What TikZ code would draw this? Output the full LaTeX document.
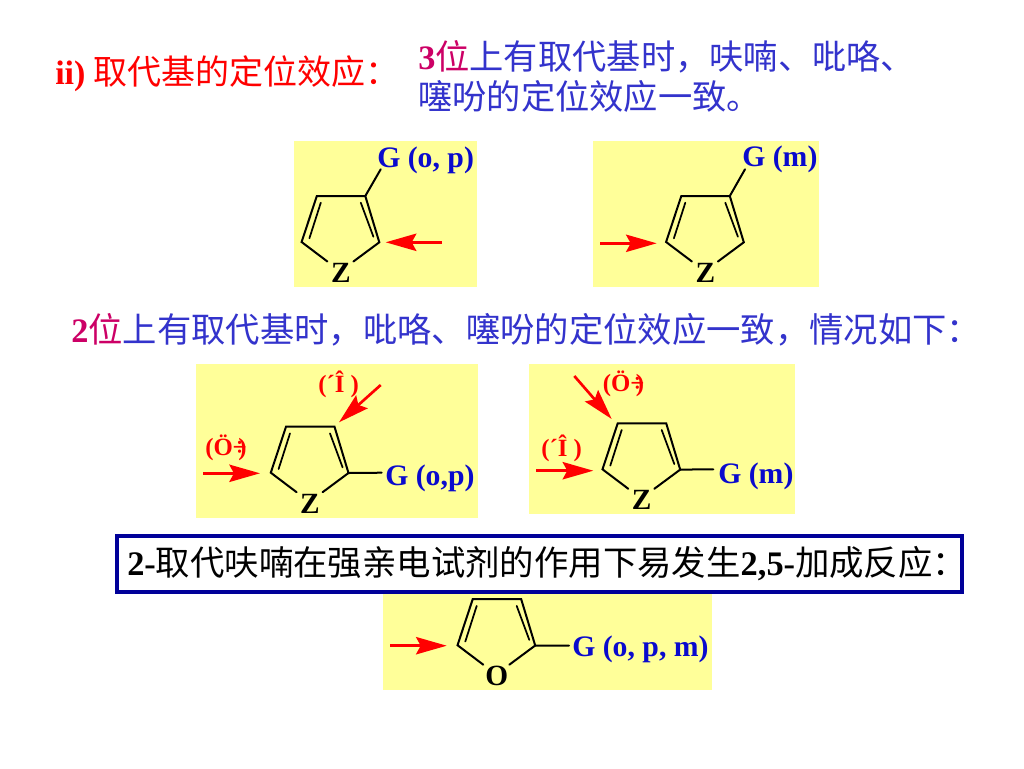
\documentclass[tikz,border=0pt]{standalone}
\usepackage{fontspec}
\setmainfont{Liberation Serif}
\newfontfamily\cjk{Noto Sans CJK SC}
\usetikzlibrary{arrows.meta}
\definecolor{panelyellow}{RGB}{255,255,153}
\definecolor{gblue}{RGB}{10,10,205}
\definecolor{txtblue}{RGB}{51,51,204}
\definecolor{txtmag}{RGB}{204,0,102}
\definecolor{boxnavy}{RGB}{0,0,153}
\newcommand{\hz}[1]{{\cjk\mdseries #1}}
\newcommand{\FS}[1]{\fontsize{#1}{#1}\selectfont}
\newcommand{\Oth}{(Ö÷\kern-.33em)}
\newcommand{\Par}{(´Î )}
\tikzset{
  x=0.75pt,y=-0.75pt,
  panel/.style={fill=panelyellow,draw=none},
  bond/.style={draw=black,line width=1.5pt,line join=miter,line cap=round},
  attack/.style={draw=red,line width=2pt,-{Stealth[length=23pt,width=13pt,inset=3.5pt]}},
  gtext/.style={anchor=base west,inner sep=0pt,text=gblue,font=\FS{22.3}\bfseries},
  rtext/.style={anchor=base west,inner sep=0pt,text=red,font=\FS{18.6}\bfseries},
  line/.style={anchor=base west,inner sep=0pt,font=\bfseries},
  atom/.style={inner sep=0pt,font=\FS{22}\bfseries},
  pics/ring/.style={code={
    \coordinate (-tl) at (0,0);
    \coordinate (-tr) at (48.5,0);
    \coordinate (-r) at (62.5,46.3);
    \coordinate (-l) at (-15.2,46);
    \coordinate (-br) at (36.6,65.5);
    \coordinate (-bl) at (10.6,65.5);
    \coordinate (-i1) at (4,6.7);
    \coordinate (-i2) at (-7.4,42.3);
    \coordinate (-i3) at (44,6.7);
    \coordinate (-i4) at (56.6,40.7);
    \node[atom] (-x) at (24,77) {#1};
    \draw[bond] (-bl) -- (-l) -- (-tl) -- (-tr) -- (-r) -- (-br);
    \draw[bond,line width=1.3pt] (-i1) -- (-i2);
    \draw[bond,line width=1.3pt] (-i3) -- (-i4);
  }}
}
\begin{document}
\begin{tikzpicture}
\useasboundingbox (0,0) rectangle (1024,768);
\fill[white] (0,0) rectangle (1024,768);

% panels
\fill[panel] (294,141) rectangle (477,287);
\fill[panel] (593,141) rectangle (819,287);
\fill[panel] (196,364) rectangle (478,518);
\fill[panel] (529,364) rectangle (795,514);
\fill[panel] (383,590) rectangle (712,690);

% headings
\node[line,text=red] (h1) at (55,84.5) {\FS{25.5}ii) \hz{取代基的定位效应：}};
\node[line,text=txtblue] (h2) at (418,69.5) {\FS{25.7}\textcolor{txtmag}{3\hz{位}}\hz{上有取代基时，呋喃、吡咯、}};
\node[line,text=txtblue] (h3) at (418,109.5) {\FS{25.7}\hz{噻吩的定位效应一致。}};
\node[line,text=txtblue] (h4) at (71,342.5) {\FS{25.75}\textcolor{txtmag}{2\hz{位}}\hz{上有取代基时，吡咯、噻吩的定位效应一致，情况如下：}};

% panel 1
\pic (a) at (316.8,196) {ring={Z}};
\node[gtext] (ag) at (377,167) {G (o, p)};
\coordinate (agb) at (380.7,169.3);
\draw[bond] (a-tr) -- (agb);
\coordinate (at1) at (442,242.3);
\coordinate (at2) at (385.7,242.3);
\draw[attack] (at1) -- (at2);

% panel 2
\pic (b) at (681.3,196) {ring={Z}};
\node[gtext] (bg) at (742,166) {G (m)};
\coordinate (bgb) at (745,169.3);
\draw[bond] (b-tr) -- (bgb);
\coordinate (bt1) at (600,243.3);
\coordinate (bt2) at (656.7,243.3);
\draw[attack] (bt1) -- (bt2);

% panel 3
\pic (c) at (286,426.7) {ring={Z}};
\node[gtext] (cg) at (385,485) {G (o,p)};
\coordinate (cgb) at (381.7,472.7);
\draw[bond] (c-r) -- (cgb);
\coordinate (ct1) at (203.3,473.3);
\coordinate (ct2) at (260,473.3);
\draw[attack] (ct1) -- (ct2);
\coordinate (ct3) at (380.7,385);
\coordinate (ct4) at (339,422.3);
\draw[attack] (ct3) -- (ct4);
\node[rtext] (cr1) at (318,392) {\Par};
\node[rtext] (cr2) at (205,455.7) {\Oth};

% panel 4
\pic (d) at (617.7,423.3) {ring={Z}};
\node[gtext] (dg) at (718,483) {G (m)};
\coordinate (dgb) at (713.3,469.3);
\draw[bond] (d-r) -- (dgb);
\coordinate (dt1) at (536,470.7);
\coordinate (dt2) at (593.3,470.7);
\draw[attack] (dt1) -- (dt2);
\coordinate (dt3) at (574.3,376);
\coordinate (dt4) at (611.7,419);
\draw[attack] (dt3) -- (dt4);
\node[rtext] (dr1) at (541,456.7) {\Par};
\node[rtext] (dr2) at (602.7,391.7) {\Oth};

% panel 5
\pic (e) at (472.7,599.2) {ring={O}};
\node[gtext] (eg) at (572,656.7) {G (o, p, m)};
\coordinate (egb) at (569,645.7);
\draw[bond] (e-r) -- (egb);
\coordinate (et1) at (390,645.7);
\coordinate (et2) at (446.7,645.7);
\draw[attack] (et1) -- (et2);

% framed line
\node[draw=boxnavy,line width=3pt,fill=white,minimum width=633.75pt,minimum height=42pt,inner sep=0pt,anchor=north west] (frame) at (115,534) {};
\node[line,text=black] (h5) at (127,575.5) {\FS{25.8}2-\hz{取代呋喃在强亲电试剂的作用下易发生}2,5-\hz{加成反应：}};
\end{tikzpicture}
\end{document}
